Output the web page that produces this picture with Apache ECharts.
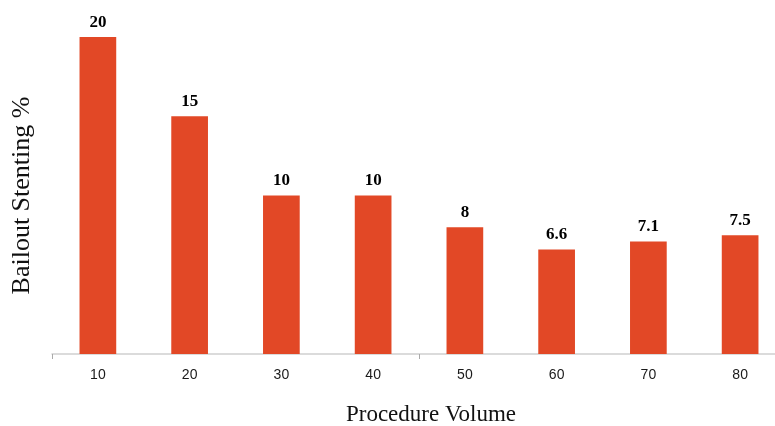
<!DOCTYPE html>
<html>
<head>
<meta charset="utf-8">
<script src="https://cdn.jsdelivr.net/npm/echarts@6/dist/echarts.min.js"></script>
<style>
  html, body { margin: 0; padding: 0; background: #ffffff; }
  #chart { width: 775px; height: 426px; }
</style>
</head>
<body>
<div id="chart"></div>
<script>
// Procedure volume buckets and bailout stenting rate (%)
const categories = ['10', '20', '30', '40', '50', '60', '70', '80'];
const bailoutRates = [20, 15, 10, 10, 8, 6.6, 7.1, 7.5];

const xAxisTitle = 'Procedure Volume';
const yAxisTitle = 'Bailout Stenting %';

const chart = echarts.init(document.getElementById('chart'), null, { renderer: 'canvas' });

chart.setOption({
  animation: false,
  backgroundColor: '#ffffff',
  grid: { left: 52, top: 37, bottom: 72, width: 734, outerBoundsMode: 'none' },
  xAxis: {
    type: 'category',
    data: categories,
    name: xAxisTitle,
    nameLocation: 'middle',
    nameGap: 49,
    nameTextStyle: {
      fontFamily: 'Liberation Serif, Times New Roman, serif',
      fontSize: 23,
      color: '#111111',
      padding: [0, 0, 0, 24]
    },
    axisLine: { show: true, lineStyle: { color: '#cfcfcf', width: 1.5 } },
    axisTick: { show: true, interval: 3, length: 5, lineStyle: { color: '#aaaaaa' } },
    axisLabel: {
      margin: 14,
      fontFamily: 'Liberation Sans, Arial, sans-serif',
      fontSize: 14,
      color: '#1a1a1a'
    }
  },
  yAxis: {
    type: 'value',
    min: 0,
    max: 20,
    name: yAxisTitle,
    nameLocation: 'middle',
    nameGap: 17,
    nameTextStyle: {
      fontFamily: 'Liberation Serif, Times New Roman, serif',
      fontSize: 26,
      color: '#111111'
    },
    axisLine: { show: false },
    axisTick: { show: false },
    axisLabel: { show: false },
    splitLine: { show: false }
  },
  series: [{
    type: 'bar',
    data: bailoutRates,
    barWidth: '40%',
    itemStyle: { color: '#E24826' },
    label: {
      show: true,
      position: 'top',
      distance: 6,
      fontFamily: 'Liberation Serif, Times New Roman, serif',
      fontWeight: 'bold',
      fontSize: 17,
      color: '#000000'
    }
  }]
});
</script>
</body>
</html>
